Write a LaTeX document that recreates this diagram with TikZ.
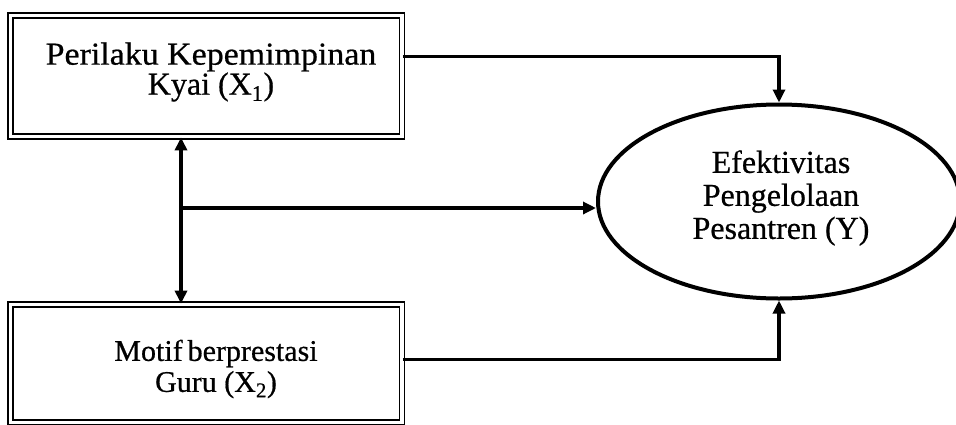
\documentclass[tikz,border=0pt]{standalone}
\usepackage{fontspec}
\setmainfont{Liberation Serif}
\newfontfamily\scanfont{Liberation Serif}[FakeBold=0.6]
\usetikzlibrary{arrows.meta,shapes.geometric,calc}
\tikzset{
  dbox/.style={draw=black, line width=1.8pt, double=white, double distance=3.2pt, rectangle, inner sep=0pt},
  lbl/.style={align=center, inner sep=0pt, text=black},
  conn/.style={line width=3.2pt, -{Triangle[length=13pt,width=12pt]}},
  connboth/.style={line width=3.2pt, {Triangle[length=13pt,width=12pt]}-{Triangle[length=13pt,width=12pt]}},
  oval/.style={draw=black, ellipse, line width=4pt, inner sep=0pt}
}
\begin{document}
\begin{tikzpicture}[x=1pt,y=-1pt]
\useasboundingbox[fill=white] (0,0) rectangle (956,424);
% boxes
\node[dbox, minimum width=391.5pt, minimum height=121pt] (x1) at (206.25,76) {};
\node[dbox, minimum width=391.5pt, minimum height=118pt] (x2) at (206.25,363.5) {};
\node[oval, minimum width=362pt, minimum height=194pt] (y) at (779,201.5) {};
% texts
\node[lbl, font=\scanfont\fontsize{32}{24}\selectfont] (x1t) at (211,72) {\scalebox{1.06}[1]{Perilaku Kepemimpinan}\\Kyai (X\textsubscript{1})};
\node[lbl, font=\scanfont\fontsize{30}{31}\selectfont] (x2t) at (216,369) {Motif\hspace{5pt}berprestasi\\Guru (X\textsubscript{2})};
\node[lbl, font=\scanfont\fontsize{32}{33}\selectfont] (yt) at (781,198) {Efektivitas\\Pengelolaan\\Pesantren (Y)};
% connectors
\coordinate (j) at (181,208);
\draw[conn] ([yshift=-41.5pt]x1.north east) -| (y.north);
\draw[conn] ([yshift=-55.5pt]x2.north east) -| (y.south);
\draw[connboth] (j |- x1.south) -- (j |- x2.north);
\draw[conn] (j) -- (j -| y.west);
\end{tikzpicture}
\end{document}
